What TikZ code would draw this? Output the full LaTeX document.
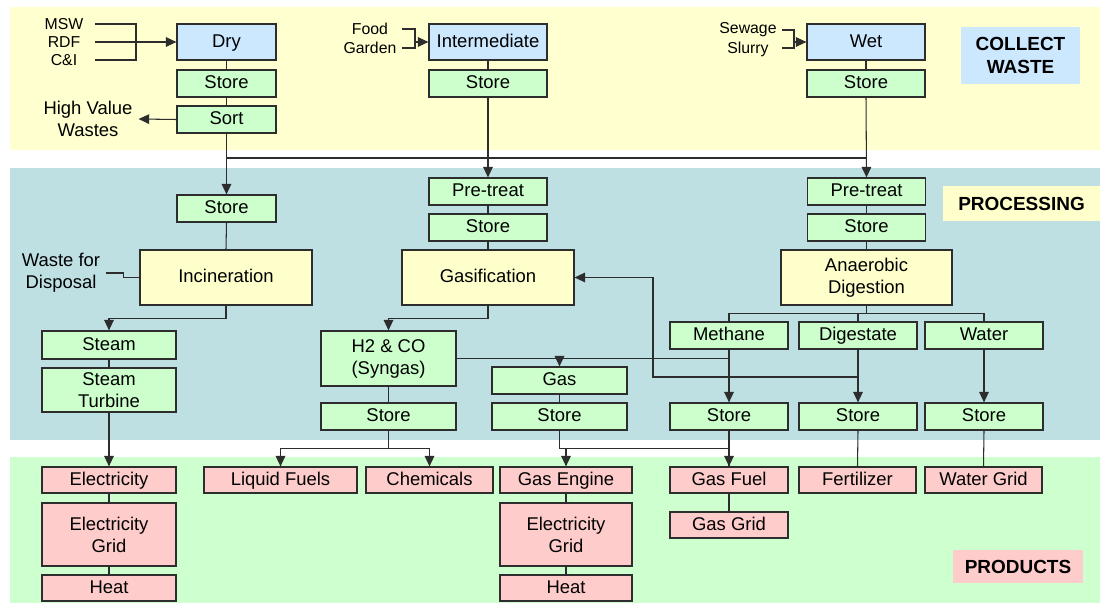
\documentclass[tikz,border=0pt]{standalone}
\usepackage{fontspec}
\setmainfont{Liberation Sans}
\usetikzlibrary{arrows.meta}

\definecolor{wastebg}{RGB}{255,255,208}
\definecolor{procbg}{RGB}{190,224,227}
\definecolor{prodbg}{RGB}{206,255,206}
\definecolor{blueish}{RGB}{204,232,255}
\definecolor{greenish}{RGB}{204,255,204}
\definecolor{yellowish}{RGB}{255,255,204}
\definecolor{pinkish}{RGB}{255,204,204}
\definecolor{edge}{RGB}{45,45,45}

\begin{document}
\begin{tikzpicture}[x=0.02cm, y=-0.02cm,
        every node/.style = {font=\fontsize{10.5}{12.5}\selectfont, align=center},
        boxed/.style = {draw=edge, line width=0.7pt, inner sep=1pt,
                        minimum width=2.36cm, minimum height=0.54cm,
                        text height=0.8em, text depth=0.2em},
        twolines/.style = {text height=, text depth=},
        bluebox/.style = {boxed, fill=blueish, minimum height=0.72cm},
        greenbox/.style = {boxed, fill=greenish},
        yellowbox/.style = {boxed, fill=yellowish, minimum width=3.44cm, minimum height=1.1cm},
        pinkbox/.style = {boxed, fill=pinkish, minimum height=0.52cm},
        tag/.style = {font=\bfseries\fontsize{10.8}{13}\selectfont, inner sep=0pt},
        note/.style = {font=\fontsize{9}{11.2}\selectfont, inner sep=0pt},
        >={Triangle[length=6pt, width=5.5pt]}
    ]
    \useasboundingbox (0,0) rectangle (1105,604);
    % bands
    \fill[wastebg] (10,7) rectangle (1100,150);
    \fill[procbg]  (10,168) rectangle (1100,440);
    \fill[prodbg]  (10,457) rectangle (1100,603);
    \node[tag, fill=blueish, minimum width=2.38cm, minimum height=1.14cm] (lcollect) at (1020.5,55.5) {COLLECT\\WASTE};
    \node[tag, fill=yellowish, minimum width=3.14cm, minimum height=0.7cm] (lproc) at (1021.5,203.5) {PROCESSING};
    \node[tag, fill=pinkish, minimum width=2.6cm, minimum height=0.66cm] (lprod) at (1018,566.5) {PRODUCTS};

    % collect waste
    \node[bluebox, minimum width=1.98cm]  (dry)    at (226.5,42)   {Dry};
    \node[greenbox, minimum width=1.98cm] (dstore) at (226.5,83.5) {Store};
    \node[greenbox, minimum width=1.98cm] (sort)   at (226.5,119.5) {Sort};
    \node[bluebox]  (inter)  at (488,42)   {Intermediate};
    \node[greenbox] (istore) at (488,83.5) {Store};
    \node[bluebox]  (wet)    at (866,42)   {Wet};
    \node[greenbox] (wstore) at (866,83.5) {Store};
    \node[note] (msw) at (64,24) {MSW};
    \node[note] (rdf) at (64,42) {RDF};
    \node[note] (ci)  at (64,60) {C\&I};
    \node[note] (foodgarden) at (370,38.5) {Food\\Garden};
    \node[note] (sewslurry)  at (748,39.5) {Sewage\\Slurry};
    \node (hv) at (88,119) {High Value\\Wastes};

    % processing
    \node[greenbox, minimum width=1.98cm] (store1) at (226.5,208.5) {Store};
    \node[yellowbox] (incin) at (226,277.5) {Incineration};
    \node (wfd) at (61,273) {Waste for\\Disposal};
    \node[greenbox, minimum width=2.68cm, minimum height=0.56cm] (steam) at (109,345) {Steam};
    \node[greenbox, twolines, minimum width=2.68cm, minimum height=0.88cm] (turbine) at (109,390) {Steam\\Turbine};
    \node[greenbox] (pre2)   at (488,191.5) {Pre-treat};
    \node[greenbox] (store2) at (488,227.5) {Store};
    \node[yellowbox] (gasif) at (488,277.5) {Gasification};
    \node[greenbox, twolines, minimum width=2.7cm, minimum height=1.1cm] (syngas) at (388.5,358.5) {H2 \& CO\\(Syngas)};
    \node[greenbox, minimum width=2.7cm] (sstore) at (388.5,416.5) {Store};
    \node[greenbox, minimum width=2.7cm] (gas)    at (559.5,380.5) {Gas};
    \node[greenbox, minimum width=2.7cm] (gstore) at (559.5,416.5) {Store};
    \node[greenbox] (pre3)   at (866.5,191.5) {Pre-treat};
    \node[greenbox] (store3) at (866.5,227.5) {Store};
    \node[yellowbox, twolines, minimum width=3.42cm] (ad) at (866.5,277.5) {Anaerobic\\Digestion};
    \node[greenbox] (methane) at (729,335.5) {Methane};
    \node[greenbox] (digest)  at (858,335.5) {Digestate};
    \node[greenbox] (water)   at (984,335.5) {Water};
    \node[greenbox] (mstore)  at (729,416.5) {Store};
    \node[greenbox] (dstore2) at (858,416.5) {Store};
    \node[greenbox] (wstore2) at (984,416.5) {Store};

    % products
    \node[pinkbox, minimum width=2.68cm] (elec) at (109,480) {Electricity};
    \node[pinkbox, twolines, minimum width=2.68cm, minimum height=1.26cm] (egrid) at (109,534.5) {Electricity\\Grid};
    \node[pinkbox, minimum width=2.68cm] (heat) at (109,588) {Heat};
    \node[pinkbox, minimum width=3.06cm] (liquid) at (280.5,480) {Liquid Fuels};
    \node[pinkbox, minimum width=2.54cm] (chem)   at (429.5,480) {Chemicals};
    \node[pinkbox, minimum width=2.64cm] (engine) at (566,480) {Gas Engine};
    \node[pinkbox, twolines, minimum width=2.64cm, minimum height=1.26cm] (egrid2) at (566,534.5) {Electricity\\Grid};
    \node[pinkbox, minimum width=2.64cm] (heat2)  at (566,588) {Heat};
    \node[pinkbox] (gasfuel) at (729,480) {Gas Fuel};
    \node[pinkbox] (gasgrid) at (729,525) {Gas Grid};
    \node[pinkbox, minimum width=2.34cm] (fert)  at (857.5,480) {Fertilizer};
    \node[pinkbox, minimum width=2.34cm] (wgrid) at (983.5,480) {Water Grid};

    \begin{scope}[color=edge, line width=0.6pt]
    % inputs
    \coordinate (mswend) at (95,24);
    \coordinate (rdfend) at (95,42);
    \coordinate (ciend)  at (95,60);
    \coordinate (drybar) at (136,60);
    \draw (mswend) -| (drybar) -- (ciend);
    \draw[->] (rdfend) -- (dry.west);
    \coordinate (foodend)   at (402,29);
    \coordinate (gardenend) at (402,48);
    \coordinate (interbar)  at (415,48);
    \draw (foodend) -| (interbar) -- (gardenend);
    \draw[->] (interbar |- inter.west) -- (inter.west);
    \coordinate (sewageend) at (782,30);
    \coordinate (slurryend) at (782,48);
    \coordinate (wetbar)    at (794,48);
    \draw (sewageend) -| (wetbar) -- (slurryend);
    \draw[->] (wetbar |- wet.west) -- (wet.west);
    % collect stacks
    \draw (dry.south) -- (dstore.north);
    \draw (dstore.south) -- (sort.north);
    \draw[->] (sort.west) -- (hv.east);
    \draw (inter.south) -- (istore.north);
    \draw (wet.south) -- (wstore.north);
    \coordinate (split) at (488,158);
    \draw (sort.south) |- (split) -| (pre3.north);
    \draw[->] (sort.south) -- (store1.north);
    \draw[->] (istore.south) -- (pre2.north);
    \draw[->] (wstore.south) -- (pre3.north);
    % incineration
    \draw (store1.south) -- (incin.north);
    \draw (wfd.east) -- ++(17,0) |- (incin.west);
    \draw[->] (incin.south) -- ++(0,13) -| (steam.north);
    \draw (steam.south) -- (turbine.north);
    \draw[->] (turbine.south) -- (elec.north);
    \draw (elec.south) -- (egrid.north);
    \draw (egrid.south) -- (heat.north);
    % gasification
    \draw (pre2.south) -- (store2.north);
    \draw (store2.south) -- (gasif.north);
    \draw[->] (gasif.south) -- ++(0,13) -| (syngas.north);
    \draw (syngas.south) -- (sstore.north);
    \draw (sstore.south) -- ++(0,18) coordinate (fork);
    \draw[->] (fork) -| (liquid.north);
    \draw[->] (fork) -| (chem.north);
    \draw (syngas.east) -- (syngas.east -| methane.south);
    \draw[->] (syngas.east -| gas.north) -- (gas.north);
    \draw (gas.south) -- (gstore.north);
    \draw (gstore.south) -- ++(0,18) coordinate (gasfork) -| (gasfuel.north);
    \draw[->] (engine.north |- gasfork) -- (engine.north);
    \draw (engine.south) -- (egrid2.north);
    \draw (egrid2.south) -- (heat2.north);
    % digestion
    \draw (pre3.south) -- (store3.north);
    \draw (store3.south) -- (ad.north);
    \draw (ad.south) -- ++(0,8) coordinate (adfork);
    \draw (adfork) -| (methane.north);
    \draw (adfork) -| (digest.north);
    \draw (adfork) -| (water.north);
    \draw[->] (methane.south) -- (mstore.north);
    \draw[->] (digest.south) -- (dstore2.north);
    \draw[->] (water.south) -- (wstore2.north);
    \coordinate (loop) at (653,377);
    \draw[->] (digest.south |- loop) -- (loop) |- (gasif.east);
    \draw[->] (mstore.south) -- (gasfuel.north);
    \draw (gasfuel.south) -- (gasgrid.north);
    \draw (dstore2.south) -- (fert.north);
    \draw (wstore2.south) -- (wgrid.north);
    \end{scope}
\end{tikzpicture}
\end{document}
